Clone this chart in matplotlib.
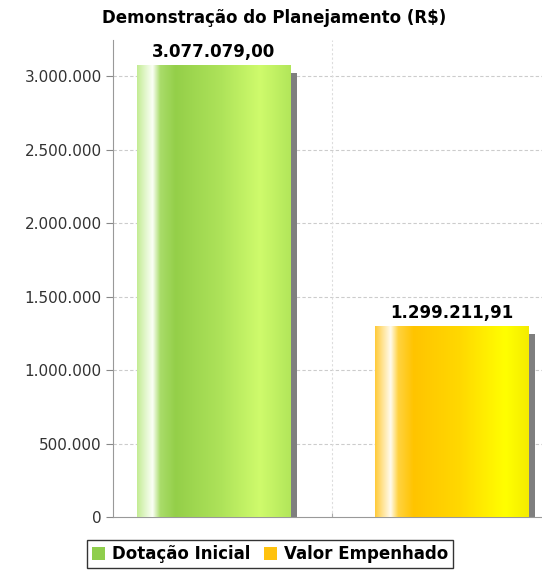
import numpy as np
import matplotlib
matplotlib.use('Agg')
import matplotlib.pyplot as plt
from matplotlib.colors import LinearSegmentedColormap
from matplotlib.patches import Patch

# data
categories = ['Dotação Inicial', 'Valor Empenhado']
values = [3077079.00, 1299211.91]
value_labels = ['3.077.079,00', '1.299.211,91']
yticks = [0, 500000, 1000000, 1500000, 2000000, 2500000, 3000000]
ytick_labels = ['0', '500.000', '1.000.000', '1.500.000', '2.000.000', '2.500.000', '3.000.000']
legend_colors = ['#8fce4c', '#ffc20e']

# horizontal gradients (position across bar, colour)
gradients = [
    [(0.0, '#c4ec94'), (0.06, '#e6f8d2'), (0.1, '#fbfff6'), (0.15, '#a9dc6a'),
     (0.25, '#94cf49'), (0.55, '#aee35a'), (0.8, '#cffb6c'), (1.0, '#b2e65a')],
    [(0.0, '#ffcb3a'), (0.06, '#ffe9a8'), (0.1, '#fffbee'), (0.15, '#ffd240'),
     (0.25, '#ffc400'), (0.55, '#ffd800'), (0.85, '#ffff00'), (1.0, '#f4ec00')],
]

fig = plt.figure(figsize=(5.42, 5.76), dpi=100)
ax = fig.add_axes([113 / 542, 1 - 517 / 576, 1 - 113 / 542, (517 - 40) / 576])

x = np.arange(len(categories))
width = 0.643
ymax = 3245000
ax.set_xlim(-0.422, 1.38)
ax.set_ylim(0, ymax)

# grid
for yv in yticks[1:]:
    ax.axhline(yv, color='#cccccc', lw=0.8, ls=(0, (3, 2)), zorder=0)
ax.axvline(0.5, color='#dddddd', lw=0.8, ls=(0, (2, 2)), zorder=0)

# shadows
dx = 7 / 238
dy = 8 / 477 * ymax
ax.bar(x + dx, [v - dy for v in values], width=width, color='#7f7f7f', zorder=1)

bars = ax.bar(x, values, width=width, color=legend_colors, zorder=2)
for bar, grad in zip(bars, gradients):
    cmap = LinearSegmentedColormap.from_list('g', grad)
    img = ax.imshow(np.linspace(0, 1, 256).reshape(1, -1), cmap=cmap, aspect='auto',
                    extent=[bar.get_x(), bar.get_x() + bar.get_width(), 0, bar.get_height()],
                    zorder=3)
    img.set_clip_path(bar)

for xi, v, lab in zip(x, values, value_labels):
    ax.annotate(lab, (xi, v), xytext=(0, 3), textcoords='offset points',
                ha='center', va='bottom', fontsize=12, fontweight='bold', zorder=5)

ax.set_yticks(yticks)
ax.set_yticklabels(ytick_labels, fontsize=11, color='#333333')
ax.set_xticks([0.5])
ax.set_xticklabels([''])
ax.tick_params(axis='y', length=5, color='#888888', pad=3)
ax.tick_params(axis='x', length=3, color='#aaaaaa', direction='in')
for s in ['top', 'right']:
    ax.spines[s].set_visible(False)
ax.spines['left'].set_color('#999999')
ax.spines['bottom'].set_color('#999999')

fig.text(0.505, 1 - 18 / 576, 'Demonstração do Planejamento (R$)', ha='center', va='center',
         fontsize=12, fontweight='bold')

handles = [Patch(facecolor=c, edgecolor='none') for c in legend_colors]
leg = fig.legend(handles, categories, loc='upper center', bbox_to_anchor=(0.498, 1 - 540 / 576),
                 ncol=2, frameon=True, fancybox=False, prop={'weight': 'bold', 'size': 12},
                 handlelength=0.8, handleheight=0.8, handletextpad=0.4, columnspacing=0.8,
                 borderpad=0.3, borderaxespad=0)
leg.get_frame().set_edgecolor('black')
leg.get_frame().set_linewidth(1.0)

fig.savefig('out.png', dpi=100)
